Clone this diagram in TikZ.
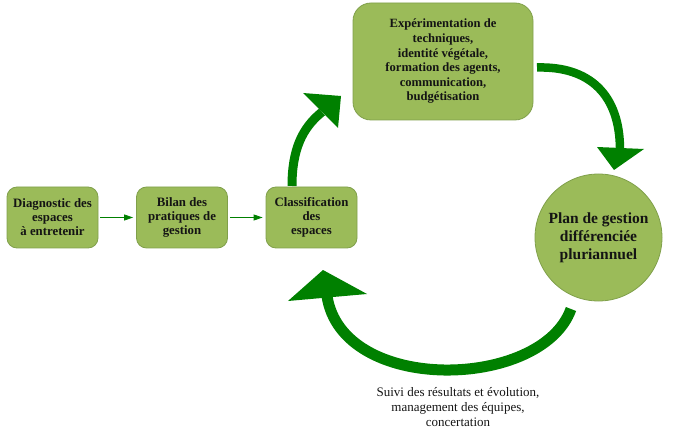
\documentclass[tikz,border=0pt]{standalone}
\usepackage{fontspec}
\setmainfont{Liberation Serif}
\usetikzlibrary{arrows.meta}
\definecolor{boxfill}{RGB}{155,187,89}
\definecolor{boxline}{RGB}{128,160,75}
\definecolor{arrgreen}{RGB}{0,128,0}
\definecolor{txt}{RGB}{20,20,20}
\tikzset{
  stepbox/.style={draw=boxline, line width=0.8pt, fill=boxfill, rounded corners=10pt,
    minimum width=91pt, minimum height=61pt, align=center, text=txt,
    font=\fontsize{12.8}{14}\selectfont\bfseries, inner sep=0pt},
  bigbox/.style={stepbox, rounded corners=18pt, minimum width=180pt, minimum height=117pt,
    font=\fontsize{12.6}{14.6}\selectfont\bfseries},
  planc/.style={circle, draw=boxline, line width=0.8pt, fill=boxfill, minimum size=127pt,
    align=center, text=txt, font=\fontsize{15.5}{18}\selectfont\bfseries, inner sep=0pt},
  thinarrow/.style={draw=arrgreen, line width=0.8pt, -{Triangle[length=9pt,width=6pt]}},
  shaft/.style={draw=arrgreen, line cap=butt},
  head/.style={fill=arrgreen}
}
\begin{document}
\begin{tikzpicture}[x=1pt,y=-1pt]
\useasboundingbox (0,0) rectangle (674,430);
\node[stepbox] (diag) at (52.5,217.5) {Diagnostic des\\espaces\\à entretenir};
\node[stepbox] (bilan) at (182,217.5) {Bilan des\\pratiques de\\gestion};
\node[stepbox] (classif) at (311.5,217.5) {Classification\\des\\espaces};
\node[bigbox] (exp) at (443,61.5) {Expérimentation de\\techniques,\\identité végétale,\\formation des agents,\\communication,\\budgétisation};
\node[planc] (plan) at (598.5,237.5) {Plan de gestion\\différenciée\\pluriannuel};
\node[align=center, font=\fontsize{13}{15}\selectfont, text=txt] (suivi) at (458,407) {Suivi des résultats et évolution,\\management des équipes,\\concertation};

\draw[thinarrow, shorten <=2pt, shorten >=3pt] (diag.east) -- (bilan.west);
\draw[thinarrow, shorten <=2pt, shorten >=3pt] (bilan.east) -- (classif.west);

% arrow classification -> experimentation
\coordinate (a1s) at (292,186);
\coordinate (a1e) at (322,112);
\draw[shaft, line width=9pt] (a1s) .. controls (292,150) and (302,128) .. (a1e);
\fill[head] (303,93) -- (341,96) -- (338,128) -- cycle;

% arrow experimentation -> plan
\coordinate (a2s) at (537,67.5);
\coordinate (a2e) at (620,150);
\draw[shaft, line width=8.5pt] (a2s) .. controls (590,66) and (620,95) .. (a2e);
\fill[head] (597,147) -- (644,149) -- (614,170) -- cycle;

% arrow plan -> classification
\coordinate (a3s) at (571,309);
\coordinate (a3e) at (327,296);
\draw[shaft, line width=11pt] (a3s) .. controls (542,390) and (342,395) .. (a3e);
\fill[head] (288,301) -- (323,270) -- (367,294) -- cycle;
\end{tikzpicture}
\end{document}
